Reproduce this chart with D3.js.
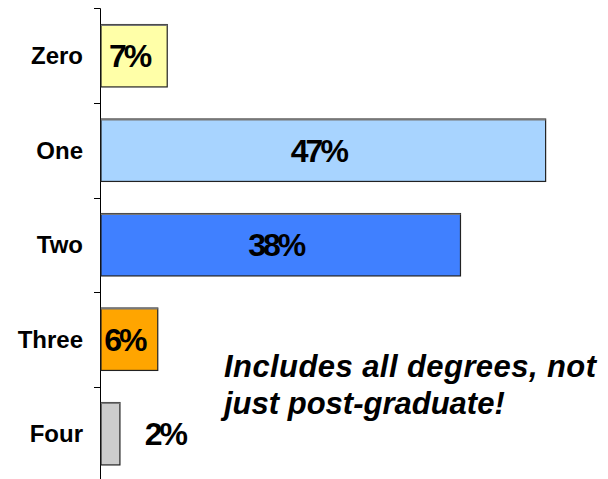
<!DOCTYPE html>
<html>
<head>
<meta charset="utf-8">
<script src="https://cdn.jsdelivr.net/npm/d3@7"></script>
<style>
  body { margin: 0; background: #fff; }
  svg { display: block; font-family: Arial, "Liberation Sans", sans-serif; }
</style>
</head>
<body>
<div id="chart"></div>
<script>
var categories = ['Zero', 'One', 'Two', 'Three', 'Four'];
var values = [7, 47, 38, 6, 2];
var colors = ['#ffffa8', '#a8d4ff', '#4080ff', '#ffa500', '#cccccc'];
var insideLabel = [true, true, true, true, false];

var width = 608, height = 479;
var axisX = 100;

var svg = d3.select('#chart').append('svg')
  .attr('width', width)
  .attr('height', height);

var x = d3.scaleLinear()
  .domain([0, 50])
  .range([axisX + 1, axisX + 1 + 473]);

var y = d3.scaleBand()
  .domain(categories)
  .range([8.5, 481])
  .paddingInner(0.34)
  .paddingOuter(0.17);

// tick marks at band boundaries
var step = y.step();
var ticks = d3.range(categories.length).map(function(i) {
  return y(categories[i]) - y.paddingInner() * step / 2;
});

svg.append('line')
  .attr('x1', axisX + 0.5).attr('x2', axisX + 0.5)
  .attr('y1', ticks[0]).attr('y2', height)
  .attr('stroke', '#000');

svg.selectAll('.tick')
  .data(ticks)
  .enter().append('line')
  .attr('class', 'tick')
  .attr('x1', axisX - 6).attr('x2', axisX + 0.5)
  .attr('y1', function(d) { return Math.round(d) + 0.5; })
  .attr('y2', function(d) { return Math.round(d) + 0.5; })
  .attr('stroke', '#000');

var bars = svg.selectAll('.bar')
  .data(values)
  .enter().append('g')
  .attr('class', 'bar');

bars.append('rect')
  .attr('x', x(0))
  .attr('y', function(d, i) { return y(categories[i]); })
  .attr('width', function(d) { return x(d) - x(0); })
  .attr('height', y.bandwidth())
  .attr('fill', function(d, i) { return colors[i]; })
  .attr('stroke', '#222')
  .attr('stroke-width', 1.2);

// grey top edge like the original shading
bars.append('line')
  .attr('x1', x(0))
  .attr('x2', function(d) { return x(d); })
  .attr('y1', function(d, i) { return y(categories[i]) + 0.6; })
  .attr('y2', function(d, i) { return y(categories[i]) + 0.6; })
  .attr('stroke', '#777')
  .attr('stroke-width', 1.5);

bars.append('text')
  .attr('x', function(d, i) {
    return insideLabel[i] ? (x(0) + x(d)) / 2 - 5 : x(d) + 45;
  })
  .attr('y', function(d, i) { return y(categories[i]) + y.bandwidth() / 2; })
  .attr('dy', '0.36em')
  .attr('text-anchor', 'middle')
  .attr('font-size', 32)
  .attr('font-weight', 'bold')
  .attr('letter-spacing', -3)
  .attr('fill', '#000')
  .text(function(d) { return d + '%'; });

svg.selectAll('.cat')
  .data(categories)
  .enter().append('text')
  .attr('class', 'cat')
  .attr('x', 83)
  .attr('y', function(d) { return y(d) + y.bandwidth() / 2; })
  .attr('dy', '0.36em')
  .attr('text-anchor', 'end')
  .attr('font-size', 24)
  .attr('font-weight', 'bold')
  .text(function(d) { return d; });

var note = svg.append('text')
  .attr('font-size', 31)
  .attr('font-weight', 'bold')
  .attr('font-style', 'italic');
note.append('tspan').attr('x', 224).attr('y', 377).attr('textLength', 372).text('Includes all degrees, not');
note.append('tspan').attr('x', 224).attr('y', 414).text('just post-graduate!');
</script>
</body>
</html>
